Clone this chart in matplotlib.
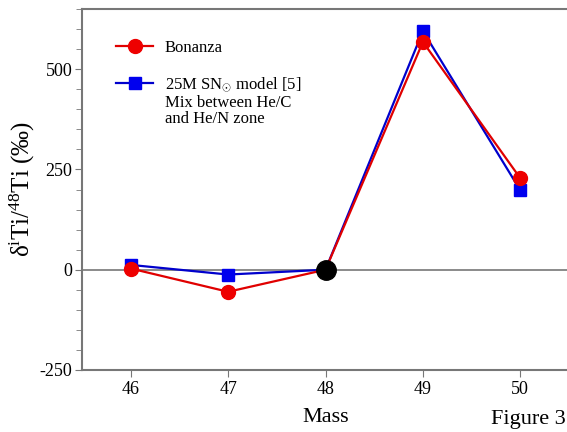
import matplotlib
matplotlib.use("Agg")
import matplotlib.pyplot as plt
from matplotlib.ticker import MultipleLocator

plt.rcParams['font.family'] = ['Liberation Serif', 'DejaVu Serif']
plt.rcParams['mathtext.fontset'] = 'custom'
plt.rcParams['mathtext.rm'] = 'Liberation Serif'
plt.rcParams['mathtext.it'] = 'Liberation Serif:italic'
plt.rcParams['axes.unicode_minus'] = False

mass = [46, 47, 48, 49, 50]
bonanza = [3, -55, 0, 568, 228]
model = [12, -12, 0, 595, 198]
ref_mass = [48]
ref_val = [0]

fig = plt.figure(figsize=(5.67, 4.32), dpi=100)
ax = fig.add_axes([82 / 567, 1 - 370 / 432, (569 - 82) / 567, (370 - 9) / 432])

ax.axhline(0, color='#777777', lw=1.2, zorder=1)
ax.plot(mass, model, color='#0000cc', lw=1.6, marker='s', ms=8.5,
        mec='#0000ee', mfc='#0000ee', zorder=3,
        label='25M SN$_{\\odot}$ model [5]')
ax.plot(mass, bonanza, color='#e00000', lw=1.6, marker='o', ms=10,
        mec='#ee0000', mfc='#ee0000', zorder=4, label='Bonanza')
ax.plot(ref_mass, ref_val, 'o', color='black', ms=14, zorder=5)

ax.set_xlim(45.5, 50.5)
ax.set_ylim(-250, 650)
ax.set_xticks(mass)
ax.set_yticks([-250, 0, 250, 500])
ax.yaxis.set_minor_locator(MultipleLocator(50))

ax.spines['right'].set_visible(False)
for s in ['left', 'bottom', 'top']:
    ax.spines[s].set_color('#777777')
    ax.spines[s].set_linewidth(1.5)
ax.tick_params(axis='both', which='major', direction='out', length=5,
               color='#777777', labelsize=13)
ax.tick_params(axis='y', which='minor', direction='out', length=4, color='#777777')
ax.tick_params(axis='y', which='major', pad=2)
ax.tick_params(axis='x', which='major', pad=3)

ax.set_xlabel('Mass', fontsize=16, labelpad=7)
ax.set_ylabel('δ$^{\\mathrm{i}}$Ti/$^{48}$Ti ($\\mathit{‰}$)', fontsize=18, labelpad=2)

handles, labels = ax.get_legend_handles_labels()
leg = ax.legend(handles[::-1], labels[::-1], loc='upper left', frameon=False,
                fontsize=12, handlelength=2.2, labelspacing=1.15, handletextpad=0.7,
                bbox_to_anchor=(0.04, 0.955))

# extra description lines under the model entry
fig.canvas.draw()
bb = leg.get_texts()[1].get_window_extent()
x0, y0 = fig.transFigure.inverted().transform((bb.x0, bb.y0))
fig.text(x0, y0 - 0.003, 'Mix between He/C\nand He/N zone', fontsize=12,
         ha='left', va='top', linespacing=1.0)

fig.text(0.998, 0.008, 'Figure 3', fontsize=16, ha='right', va='bottom')

fig.savefig('out.png', dpi=100)
